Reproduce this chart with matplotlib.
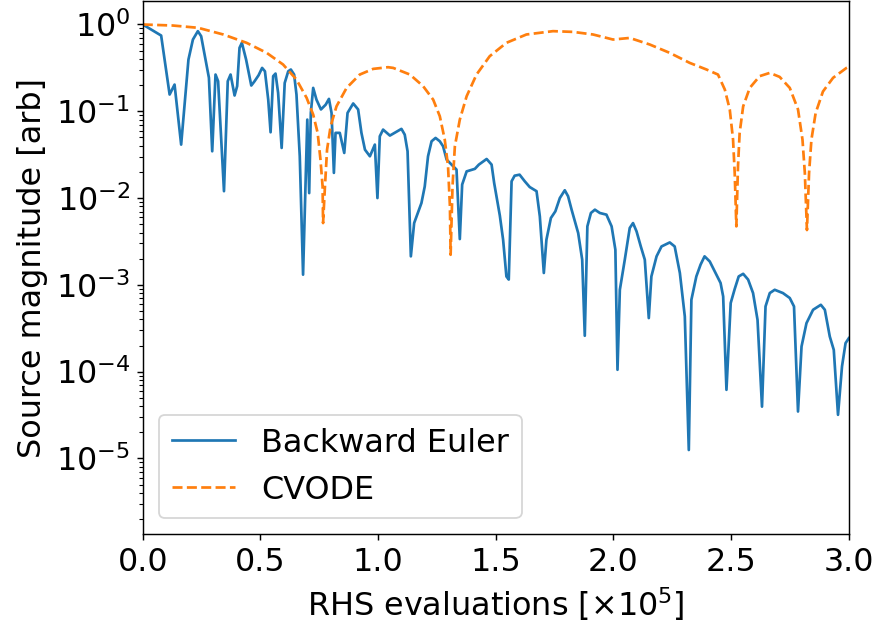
import matplotlib
matplotlib.use('Agg')
import matplotlib.pyplot as plt

# RHS evaluations (in units of 1e5) and source magnitude
be_x = [0.0, 0.078, 0.114, 0.135, 0.163, 0.194, 0.213, 0.234, 0.248, 0.281,
        0.295, 0.309, 0.320, 0.345, 0.361, 0.373, 0.390, 0.401, 0.411, 0.421,
        0.439, 0.461, 0.475, 0.492, 0.507, 0.519, 0.533, 0.543, 0.554, 0.564,
        0.575, 0.590, 0.603, 0.618, 0.629, 0.643, 0.653, 0.667, 0.681, 0.692,
        0.699, 0.707, 0.714, 0.724, 0.738, 0.757, 0.777, 0.791, 0.802, 0.812,
        0.819, 0.837, 0.856, 0.870, 0.894, 0.915, 0.929, 0.944, 0.965, 0.986,
        0.997, 1.007, 1.021, 1.050, 1.099, 1.113, 1.125, 1.139, 1.153, 1.184,
        1.198, 1.212, 1.227, 1.244, 1.262, 1.276, 1.291, 1.319, 1.333, 1.347,
        1.357, 1.376, 1.411, 1.428, 1.461, 1.482, 1.493, 1.517, 1.531, 1.545,
        1.555, 1.567, 1.580, 1.601, 1.623, 1.644, 1.673, 1.687, 1.704, 1.715,
        1.734, 1.753, 1.772, 1.793, 1.807, 1.822, 1.850, 1.867, 1.878, 1.889,
        1.904, 1.921, 1.942, 1.970, 1.992, 2.008, 2.017, 2.027, 2.048, 2.069,
        2.083, 2.098, 2.116, 2.133, 2.150, 2.161, 2.183, 2.204, 2.239, 2.260,
        2.282, 2.303, 2.320, 2.331, 2.352, 2.370, 2.387, 2.409, 2.430, 2.455,
        2.466, 2.480, 2.498, 2.515, 2.532, 2.551, 2.572, 2.593, 2.612, 2.631,
        2.646, 2.664, 2.685, 2.720, 2.749, 2.767, 2.784, 2.799, 2.820, 2.848,
        2.881, 2.898, 2.919, 2.936, 2.954, 2.971, 2.986, 3.0]
be_y = [1.0, 0.746, 0.156, 0.203, 0.0413, 0.394, 0.671, 0.838, 0.733, 0.243,
        0.0346, 0.265, 0.222, 0.0120, 0.222, 0.265, 0.152, 0.195, 0.538, 0.615,
        0.394, 0.198, 0.222, 0.26, 0.316, 0.289, 0.136, 0.0573, 0.254, 0.272,
        0.163, 0.0378, 0.212, 0.289, 0.303, 0.265, 0.156, 0.0303, 0.00131, 0.0163,
        0.0802, 0.0114, 0.0957, 0.186, 0.136, 0.105, 0.119, 0.139, 0.0957, 0.0195,
        0.0564, 0.0564, 0.0331, 0.0957, 0.123, 0.105, 0.0564, 0.0361, 0.0303, 0.0413,
        0.0100, 0.0515, 0.0615, 0.0525, 0.0627, 0.0538, 0.0346, 0.00213, 0.00515, 0.00877,
        0.0136, 0.0303, 0.0451, 0.0493, 0.0451, 0.0395, 0.0277, 0.0232, 0.0213, 0.00337,
        0.0143, 0.0203, 0.0217, 0.0243, 0.0282, 0.0243, 0.0149, 0.0063, 0.00331, 0.00125,
        0.00115, 0.0156, 0.0181, 0.0186, 0.0156, 0.0134, 0.0120, 0.00615, 0.00137, 0.00331,
        0.00589, 0.00703, 0.0100, 0.0123, 0.0105, 0.00735, 0.00395, 0.00195, 0.000259, 0.00472,
        0.00673, 0.00735, 0.00673, 0.00644, 0.00472, 0.00254, 0.000105, 0.000877, 0.00195, 0.00452,
        0.00515, 0.00413, 0.00277, 0.00195, 0.000414, 0.00125, 0.00213, 0.00277, 0.00308, 0.00277,
        0.00137, 0.000433, 1.25e-5, 0.000673, 0.00125, 0.00171, 0.00213, 0.00186, 0.00143, 0.00105,
        0.000735, 6.17e-5, 0.000617, 0.000895, 0.00125, 0.00134, 0.00115, 0.000804, 0.000395, 3.95e-5,
        0.000564, 0.000804, 0.000877, 0.000804, 0.000705, 0.000564, 3.47e-5, 0.000195, 0.000362, 0.000516,
        0.000589, 0.000516, 0.000254, 0.000178, 3.18e-5, 0.000115, 0.000213, 0.000243]

cv_x = [0.0, 0.128, 0.235, 0.342, 0.441, 0.526, 0.596, 0.653, 0.696, 0.724,
        0.743, 0.755, 0.764, 0.766, 0.774, 0.783, 0.798, 0.823, 0.866, 0.922,
        0.979, 1.042, 1.064, 1.135, 1.191, 1.234, 1.262, 1.283, 1.297, 1.305,
        1.308, 1.316, 1.326, 1.347, 1.376, 1.418, 1.474, 1.545, 1.630, 1.743,
        1.828, 1.913, 1.998, 2.069, 2.154, 2.239, 2.324, 2.395, 2.444, 2.473,
        2.494, 2.508, 2.515, 2.522, 2.529, 2.536, 2.551, 2.579, 2.621, 2.664,
        2.706, 2.749, 2.784, 2.803, 2.813, 2.822, 2.831, 2.841, 2.859, 2.890,
        2.933, 2.990, 3.0]
cv_y = [1.0, 0.973, 0.916, 0.767, 0.615, 0.472, 0.346, 0.232, 0.143, 0.0916,
        0.0564, 0.0277, 0.0136, 0.00515, 0.0136, 0.0361, 0.0671, 0.114, 0.186, 0.265,
        0.308, 0.322, 0.316, 0.265, 0.195, 0.136, 0.0877, 0.0472, 0.0232, 0.00804,
        0.00222, 0.0136, 0.0395, 0.0802, 0.149, 0.265, 0.431, 0.615, 0.767, 0.838,
        0.822, 0.767, 0.671, 0.70, 0.588, 0.471, 0.361, 0.303, 0.265, 0.178,
        0.105, 0.0472, 0.0195, 0.00472, 0.0232, 0.0564, 0.114, 0.186, 0.254, 0.277,
        0.249, 0.186, 0.105, 0.0472, 0.0195, 0.00428, 0.0195, 0.0472, 0.0957, 0.169,
        0.243, 0.316, 0.325]

plt.rcParams['font.size'] = 17.7

fig = plt.figure(figsize=(876 / 130, 624 / 130), dpi=130)
ax = fig.add_axes([0.163, 0.1438, 0.806, 0.8538])

ax.semilogy(be_x, be_y, label='Backward Euler')
ax.semilogy(cv_x, cv_y, '--', label='CVODE')

ax.set_xlim(0, 3.0)
ax.set_ylim(10 ** -5.874, 10 ** 0.265)
ax.set_xlabel(r'RHS evaluations [$\times10^5$]')
ax.set_ylabel('Source magnitude [arb]')
ax.legend(loc='lower left')

fig.savefig('out.png', dpi=130)
